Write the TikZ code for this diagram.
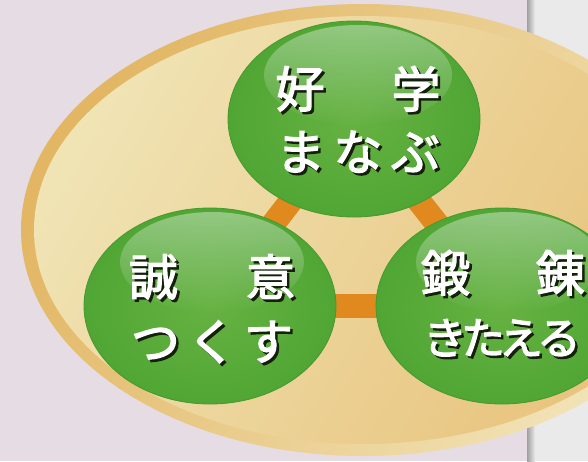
\documentclass[tikz,border=0pt]{standalone}
\usepackage{fontspec}
\newfontfamily\jp{Noto Sans CJK JP}[FakeBold=2.6]
\usetikzlibrary{fadings,shapes.geometric}
\definecolor{bgcol}{HTML}{E5DDE3}
\definecolor{panelcol}{HTML}{EAEAEA}
\definecolor{panedge}{HTML}{A0A0A0}
\definecolor{bandgold}{HTML}{E2B663}
\definecolor{bandcream}{HTML}{F2E4B9}
\definecolor{fillcream}{HTML}{F0E3B4}
\definecolor{fillgold}{HTML}{E8C37C}
\definecolor{ballin}{HTML}{66B242}
\definecolor{ballout}{HTML}{50A634}
\definecolor{ballrim}{HTML}{45992E}
\definecolor{barcol}{HTML}{E0891F}
\definecolor{shcol}{HTML}{14200C}
\pgfdeclarelayer{bg}
\pgfdeclarelayer{bars}
\pgfsetlayers{bg,bars,main}
\tikzfading[name=glossfade, top color=transparent!62, bottom color=transparent!100]
\newcommand\shtxt[1]{\makebox[0pt][l]{\hspace{2.5pt}\raisebox{-2.5pt}{\color{shcol}#1}}#1}
\begin{document}
\begin{tikzpicture}[x=1pt,y=-1pt,
  gball/.style={ellipse, minimum width=252pt, minimum height=196pt, inner sep=0pt,
    shade, inner color=ballin, outer color=ballout, draw=ballrim, line width=0.8pt},
  gloss/.style={white, path fading=glossfade},
  bar/.style={draw=barcol, line width=24pt},
  jtxt/.style={font=\jp\fontsize{49}{49}\selectfont, text=white, inner sep=0pt},
  jsmall/.style={jtxt, font=\jp\fontsize{44}{44}\selectfont}]
\useasboundingbox (0,0) rectangle (588,461);
\begin{pgfonlayer}{bg}
\begin{scope}
\clip (0,0) rectangle (588,461);
\fill[bgcol] (0,0) rectangle (588,461);
\fill[panelcol] (527,0) rectangle (588,461);
\shade[left color=panedge, right color=panelcol] (527,0) rectangle (535,461);
\shade[top color=bandgold, bottom color=bandcream, shading angle=60]
  (363,230) ellipse [x radius=342pt, y radius=226pt];
\shade[top color=fillcream, bottom color=fillgold, shading angle=60]
  (363,230) ellipse [x radius=329pt, y radius=214pt];
\end{scope}
\end{pgfonlayer}

\node[gball] (top) at (354,119) {};
\node[gball] (left) at (210,306) {};
\node[gball] (right) at (502,306) {};

\begin{pgfonlayer}{bars}
\draw[bar] (top.center) -- (left.center);
\draw[bar] (top.center) -- (right.center);
\draw[bar] (left.center) -- (right.center);
\end{pgfonlayer}

\fill[gloss] ([xshift=4pt,yshift=44pt]top.center) ellipse [x radius=94pt, y radius=50pt];
\fill[gloss] ([xshift=2pt,yshift=44pt]left.center) ellipse [x radius=92pt, y radius=50pt];
\fill[gloss] ([xshift=6pt,yshift=44pt]right.center) ellipse [x radius=92pt, y radius=50pt];

\node[jtxt] (t1) at (358,90) {\shtxt{好\hspace{67pt}学}};
\node[jtxt] (t2) at (358,153) {\shtxt{ま\hspace{8.5pt}な\hspace{8.5pt}ぶ}};

\node[jtxt] (l1) at (212,278) {\shtxt{誠\hspace{68pt}意}};
\node[jtxt] (l2) at (212,343) {\shtxt{つ\hspace{7.5pt}く\hspace{7.5pt}す}};

\node[jtxt] (r1) at (503,274) {\shtxt{鍛\hspace{66pt}錬}};
\node[jsmall] (r2) at (502,339) {\shtxt{き\kern-6pt た\kern-6pt え\kern-6pt る}};
\end{tikzpicture}
\end{document}
